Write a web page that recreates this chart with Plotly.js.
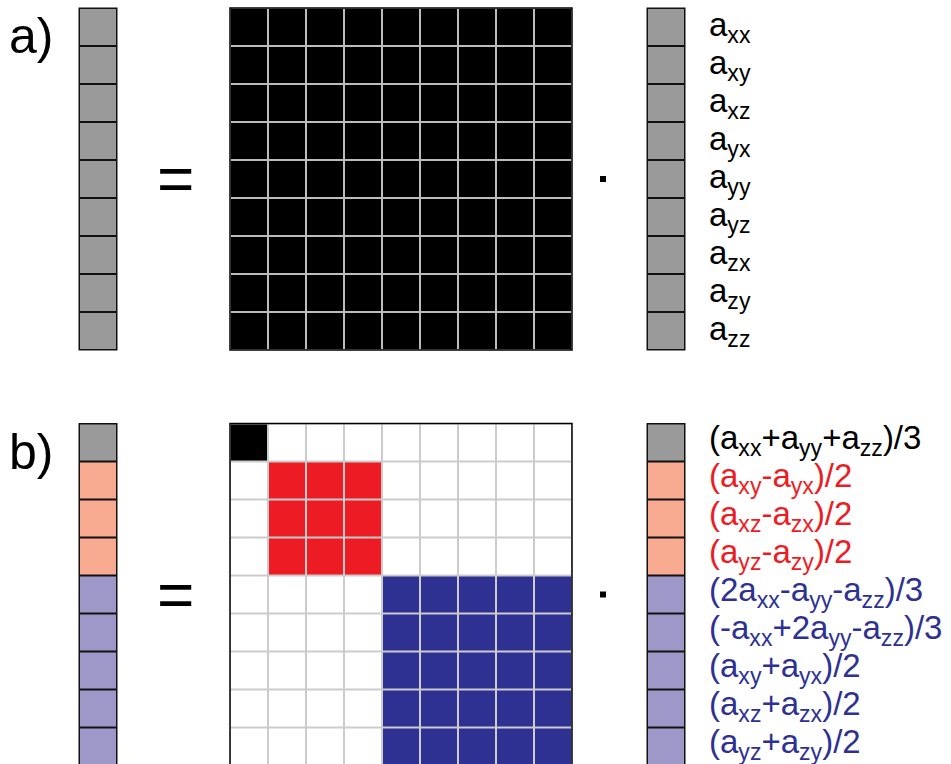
<!DOCTYPE html>
<html><head><meta charset="utf-8">
<script src="https://cdn.plot.ly/plotly-3.0.1.min.js"></script>
<style>html,body{margin:0;padding:0;background:#fff;}#chart{width:951px;height:764px;}</style>
</head><body><div id="chart"></div>
<script>
// ---------- data ----------
const panelLetters = ['a)', 'b)'];
// matrix codes: 0 = white, 1 = black, 2 = red, 3 = blue
const matrixA = [
  [1,1,1,1,1,1,1,1,1],
  [1,1,1,1,1,1,1,1,1],
  [1,1,1,1,1,1,1,1,1],
  [1,1,1,1,1,1,1,1,1],
  [1,1,1,1,1,1,1,1,1],
  [1,1,1,1,1,1,1,1,1],
  [1,1,1,1,1,1,1,1,1],
  [1,1,1,1,1,1,1,1,1],
  [1,1,1,1,1,1,1,1,1]
];
const matrixB = [
  [1,0,0,0,0,0,0,0,0],
  [0,2,2,2,0,0,0,0,0],
  [0,2,2,2,0,0,0,0,0],
  [0,2,2,2,0,0,0,0,0],
  [0,0,0,0,3,3,3,3,3],
  [0,0,0,0,3,3,3,3,3],
  [0,0,0,0,3,3,3,3,3],
  [0,0,0,0,3,3,3,3,3],
  [0,0,0,0,3,3,3,3,3]
];
// vector codes: 0 = gray, 1 = salmon, 2 = lavender
const vectorA = [[0],[0],[0],[0],[0],[0],[0],[0],[0]];
const vectorB = [[0],[1],[1],[1],[2],[2],[2],[2],[2]];
const labelsA = [
  'a<sub>xx</sub>','a<sub>xy</sub>','a<sub>xz</sub>',
  'a<sub>yx</sub>','a<sub>yy</sub>','a<sub>yz</sub>',
  'a<sub>zx</sub>','a<sub>zy</sub>','a<sub>zz</sub>'
];
const labelsB = [
  '(a<sub>xx</sub>+a<sub>yy</sub>+a<sub>zz</sub>)/3',
  '(a<sub>xy</sub>-a<sub>yx</sub>)/2',
  '(a<sub>xz</sub>-a<sub>zx</sub>)/2',
  '(a<sub>yz</sub>-a<sub>zy</sub>)/2',
  '(2a<sub>xx</sub>-a<sub>yy</sub>-a<sub>zz</sub>)/3',
  '(-a<sub>xx</sub>+2a<sub>yy</sub>-a<sub>zz</sub>)/3',
  '(a<sub>xy</sub>+a<sub>yx</sub>)/2',
  '(a<sub>xz</sub>+a<sub>zx</sub>)/2',
  '(a<sub>yz</sub>+a<sub>zy</sub>)/2'
];
const labelGroupsB = [0,1,1,1,2,2,2,2,2];

// ---------- styling / layout constants ----------
const W = 951, H = 764, CELL = 38, N = 9;
const panelTops = [8, 423.5];
const labelShifts = [0, -3];
const matX0 = 230, vecLX0 = 79, vecRX0 = 647, labelX = 707;
const eqX = 175, dotX = 603;
const FONT = 'Liberation Sans, Arial, Helvetica, sans-serif';
const matColors = ['#ffffff', '#000000', '#ed1c24', '#2e3192'];
const vecColors = ['#9a9a9a', '#f9ab91', '#9e98c8'];
const labelColors = ['#000000', '#ed1c24', '#2e3192'];

function discreteScale(cols) {
  const n = cols.length, s = [];
  cols.forEach((c, i) => { s.push([i / n, c]); s.push([(i + 1) / n, c]); });
  return s;
}

const traces = [], shapes = [], annotations = [];
const panels = [
  {mat: matrixA, vec: vectorA, labels: labelsA, groups: null, grid: '#bcbcbc'},
  {mat: matrixB, vec: vectorB, labels: labelsB, groups: labelGroupsB, grid: '#cccccc'}
];

panels.forEach((p, k) => {
  const top = panelTops[k];
  const size = CELL * N;
  const mid = top + size / 2;
  // grid underlay for matrix
  shapes.push({type: 'rect', layer: 'below', xref: 'x', yref: 'y',
    x0: matX0, x1: matX0 + size, y0: top, y1: top + size,
    fillcolor: p.grid, line: {width: 0}});
  traces.push({type: 'heatmap', z: p.mat, x0: matX0 + CELL / 2, dx: CELL,
    y0: top + CELL / 2, dy: CELL, zmin: -0.5, zmax: 3.5,
    colorscale: discreteScale(matColors), showscale: false,
    xgap: 2, ygap: 2, hoverinfo: 'skip'});
  shapes.push({type: 'rect', layer: 'above', xref: 'x', yref: 'y',
    x0: matX0, x1: matX0 + size, y0: top, y1: top + size,
    fillcolor: 'rgba(0,0,0,0)', line: {color: '#000', width: 1.5}});
  // vectors
  [vecLX0, vecRX0].forEach(vx => {
    shapes.push({type: 'rect', layer: 'below', xref: 'x', yref: 'y',
      x0: vx - 0.5, x1: vx + CELL + 0.5, y0: top - 0.5, y1: top + size + 0.5,
      fillcolor: '#111', line: {width: 0}});
    traces.push({type: 'heatmap', z: p.vec, x0: vx + CELL / 2, dx: CELL,
      y0: top + CELL / 2, dy: CELL, zmin: -0.5, zmax: 2.5,
      colorscale: discreteScale(vecColors), showscale: false,
      xgap: 2, ygap: 2, hoverinfo: 'skip'});
  });
  // panel letter
  annotations.push({text: panelLetters[k], xref: 'x', yref: 'y', x: 7, y: top + 28,
    xanchor: 'left', yanchor: 'middle', showarrow: false,
    font: {family: FONT, size: 50, color: '#000'}});
  // equals sign
  annotations.push({text: '=', xref: 'x', yref: 'y', x: eqX, y: mid,
    xanchor: 'center', yanchor: 'middle', showarrow: false,
    font: {family: FONT, size: 64, color: '#000'}});
  // dot
  traces.push({type: 'scatter', mode: 'markers', x: [dotX], y: [mid],
    marker: {symbol: 'square', size: 6, color: '#000'}, hoverinfo: 'skip'});
  // labels
  p.labels.forEach((t, i) => {
    annotations.push({text: t, xref: 'x', yref: 'y', x: labelX,
      y: top + CELL / 2 + CELL * i + labelShifts[k],
      xanchor: 'left', yanchor: 'middle', showarrow: false,
      font: {family: FONT, size: 33, color: labelColors[p.groups ? p.groups[i] : 0]}});
  });
});

const layout = {
  width: W, height: H, margin: {l: 0, r: 0, t: 0, b: 0},
  paper_bgcolor: '#fff', plot_bgcolor: '#fff', showlegend: false,
  xaxis: {range: [0, W], visible: false, fixedrange: true},
  yaxis: {range: [H, 0], visible: false, fixedrange: true},
  shapes: shapes, annotations: annotations
};
Plotly.newPlot('chart', traces, layout, {staticPlot: true, displayModeBar: false});
</script></body></html>
